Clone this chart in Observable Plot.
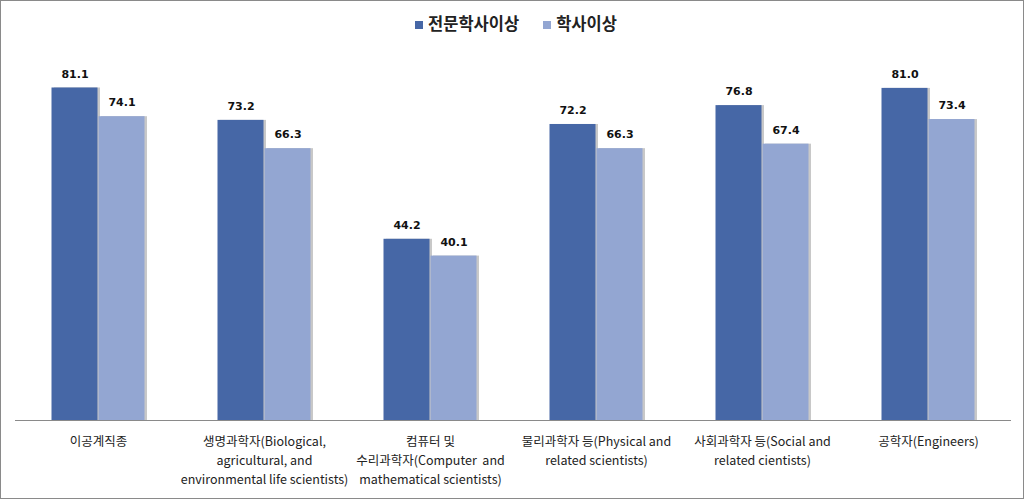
<!DOCTYPE html>
<html><head><meta charset="utf-8">
<script src="https://cdn.jsdelivr.net/npm/d3@7"></script>
<script src="https://cdn.jsdelivr.net/npm/@observablehq/plot@0.6"></script>
<style>
html,body{margin:0;padding:0;background:#fff;}
#wrap{width:1024px;height:499px;box-sizing:border-box;border:1px solid #8a8a8a;overflow:hidden;font-family:"Noto Sans CJK KR","Noto Sans",sans-serif;}
#legend{height:44px;display:flex;justify-content:center;align-items:center;gap:24px;font-weight:bold;font-size:16.5px;color:#222;padding-left:8px;box-sizing:border-box;}
#legend span.sw{display:inline-block;width:8px;height:8px;margin-right:5px;vertical-align:middle;position:relative;top:-1px;}
svg{display:block;}
</style></head>
<body><div id="wrap"><div id="legend"></div><div id="chart"></div></div>
<script>
const categories = ["이공계직종","생명과학자(Biological,\nagricultural, and\nenvironmental life scientists)","컴퓨터 및\n수리과학자(Computer  and\nmathematical scientists)","물리과학자 등(Physical and\nrelated scientists)","사회과학자 등(Social and\nrelated cientists)","공학자(Engineers)"];
const series = ["전문학사이상","학사이상"];
const valuesA = [81.1, 73.2, 44.2, 72.2, 76.8, 81.0];
const valuesB = [74.1, 66.3, 40.1, 66.3, 67.4, 73.4];
const colors = ["#4667a6", "#93a6d2"];

const rows = categories.flatMap((c, i) => [
  {cat: c, series: series[0], value: valuesA[i]},
  {cat: c, series: series[1], value: valuesB[i]}
]);

const legend = document.getElementById("legend");
series.forEach((s, i) => {
  const d = document.createElement("div");
  d.innerHTML = `<span class="sw" style="background:${colors[i]}"></span>${s}`;
  legend.appendChild(d);
});

const chart = Plot.plot({
  width: 1022, height: 453,
  marginTop: 6, marginBottom: 78, marginLeft: 13, marginRight: 12,
  style: {fontFamily: '"Noto Sans CJK KR","Noto Sans",sans-serif', background: "#fff"},
  fx: {domain: categories, padding: 0, axis: null},
  x: {domain: series, paddingInner: 0, paddingOuter: 0.74, axis: null},
  y: {domain: [0, 90], axis: null},
  color: {domain: series, range: colors},
  marks: [
    Plot.barY(rows, {fx: "cat", x: "series", y: "value", fill: "#c8c8c8", dx: 2, insetLeft: 1, insetRight: 0}),
    Plot.barY(rows, {fx: "cat", x: "series", y: "value", fill: "series", insetLeft: 0.5, insetRight: 0.5}),
    Plot.text(rows, {fx: "cat", x: "series", y: "value", text: d => d.value.toFixed(1), dy: -14, fontWeight: "bold", fontSize: 11, fill: "#111", fontFamily: "Verdana, DejaVu Sans, sans-serif"}),
    Plot.ruleY([0], {stroke: "#8a8a8a", strokeWidth: 1.2}),
    Plot.text(categories, {fx: d => d, text: d => d, frameAnchor: "bottom", lineAnchor: "top", dy: 12, fontSize: 12.5, lineHeight: 1.52, fill: "#222"})
  ]
});
document.getElementById("chart").appendChild(chart);
</script></body></html>
